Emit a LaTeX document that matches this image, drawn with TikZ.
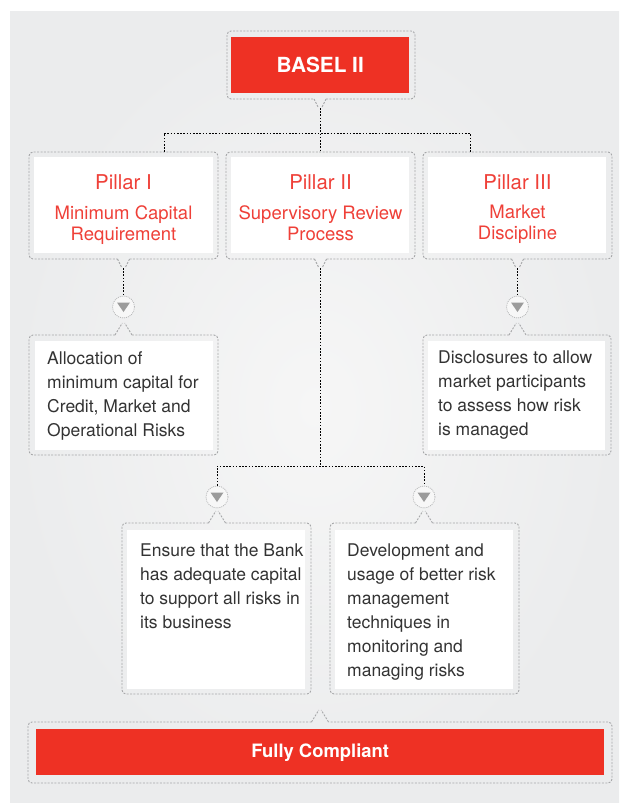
\documentclass[tikz,border=0pt]{standalone}
\usepackage{fontspec}
\setmainfont{TeX Gyre Heros}
\definecolor{bred}{HTML}{EE3124}
\definecolor{pred}{HTML}{EF4038}
\definecolor{framegray}{HTML}{A6A7A9}
\definecolor{bodytext}{HTML}{333333}
\definecolor{bginner}{HTML}{F6F6F6}
\definecolor{bgouter}{HTML}{EBECED}
\definecolor{markerfill}{HTML}{F7F7F7}
\definecolor{trigray}{HTML}{9B9B9B}

% dashed callout frame with a notch on the bottom edge
\newcommand\framedown[6]{% name, left, top, right, bottom, notch x
  \draw[frameline, rounded corners=4pt] ({#6+6},#5) -- (#4,#5) -- (#4,#3) -- (#2,#3) -- (#2,#5) -- ({#6-6},#5);
  \draw[frameline] ({#6-6},#5) -- ({#6-1.5},{#5+9}) ({#6+6},#5) -- ({#6+1.5},{#5+9});
  \coordinate (#1) at (#6,{#5+9});
}
% dashed callout frame with a notch on the top edge
\newcommand\frameup[6]{% name, left, top, right, bottom, notch x
  \draw[frameline, rounded corners=4pt] ({#6-8.5},#3) -- (#2,#3) -- (#2,#5) -- (#4,#5) -- (#4,#3) -- ({#6+8.5},#3);
  \draw[frameline] ({#6-8.5},#3) -- ({#6-1.2},{#3-12}) ({#6+8.5},#3) -- ({#6+1.2},{#3-12});
  \coordinate (#1) at (#6,{#3-12});
}

\begin{document}
\begin{tikzpicture}[x=1pt, y=-1pt,
  frameline/.style={draw=framegray, line width=0.9pt, dash pattern=on 2pt off 1.4pt},
  link/.style={draw=black, line width=0.9pt, dash pattern=on 1.6pt off 1.6pt},
  redbox/.style={fill=bred, inner sep=0, anchor=north west},
  whitebox/.style={fill=white, inner sep=0, anchor=north west},
  headtext/.style={text=white, font=\bfseries\fontsize{20.8}{24}\selectfont},
  pillartitle/.style={text=pred, inner sep=0, anchor=base, font=\fontsize{20.4}{24}\selectfont},
  pillarsub/.style={text=pred, inner sep=0, anchor=north, align=center, font=\fontsize{18.5}{21}\selectfont},
  bodynode/.style={text=bodytext, inner sep=0, anchor=north west, align=left, font=\fontsize{17.5}{24}\selectfont},
  marker/.style={circle, minimum size=22pt, inner sep=0, fill=markerfill, draw=framegray!80, line width=0.8pt, dash pattern=on 1pt off 1pt}
]
\useasboundingbox (0,0) rectangle (619,803);

% backdrop
\fill[bgouter] (10,11) rectangle (619,803);
\shade[inner color=bginner, outer color=bgouter] (10,11) rectangle (619,803);

% top box
\framedown{bn}{227}{31}{415}{99}{320}
\node[redbox, minimum width=178pt, minimum height=56pt] (basel) at (231,37) {};
\node[headtext] (baseltext) at (basel.center) {BASEL II};

% pillars
\framedown{p1n}{29}{152}{218}{259}{123.5}
\framedown{p2n}{226}{152}{415}{259}{320.5}
\framedown{p3n}{423}{152}{612}{259}{517.5}
\coordinate (p1t) at (164,152);
\coordinate (p2t) at (320,152);
\coordinate (p3t) at (470,152);
\node[whitebox, minimum width=179pt, minimum height=96pt] (p1) at (34,157) {};
\node[whitebox, minimum width=178pt, minimum height=96pt] (p2) at (231,157) {};
\node[whitebox, minimum width=178pt, minimum height=96pt] (p3) at (428,157) {};

\node[pillartitle] (p1title) at (123.5,189) {Pillar I};
\node[pillartitle] (p2title) at (320.5,189) {Pillar II};
\node[pillartitle] (p3title) at (517.5,189) {Pillar III};
\node[pillarsub] (p1sub) at (123.5,205) {Minimum Capital\\Requirement};
\node[pillarsub] (p2sub) at (320.5,205) {Supervisory Review\\Process};
\node[pillarsub] (p3sub) at (517.5,205) {Market\\Discipline};

% second level
\frameup{c1n}{29}{335}{218}{455}{123.5}
\frameup{c3n}{423}{335}{611}{455}{517.5}
\node[whitebox, minimum width=178pt, minimum height=109pt] (c1) at (35,341) {};
\node[whitebox, minimum width=177pt, minimum height=109pt] (c3) at (428,341) {};
\node[bodynode] (c1text) at (47,351) {Allocation of\\minimum capital for\\Credit, Market and\\Operational Risks};
\node[bodynode] (c3text) at (438,351) {Disclosures to allow\\market participants\\to assess how risk\\is managed};

% third level
\frameup{d1n}{122}{523}{311}{694}{217}
\frameup{d2n}{330}{523}{519}{694}{424}
\node[whitebox, minimum width=178pt, minimum height=159pt] (d1) at (127,530) {};
\node[whitebox, minimum width=178pt, minimum height=159pt] (d2) at (335,530) {};
\node[bodynode] (d1text) at (140,544) {Ensure that the Bank\\has adequate capital\\to support all risks in\\its business};
\node[bodynode] (d2text) at (347,544) {Development and\\usage of better risk\\management\\techniques in\\monitoring and\\managing risks};

% bottom bar
\frameup{fn}{28}{722}{612}{783}{320}
\node[redbox, minimum width=568pt, minimum height=46pt] (full) at (36,729) {};
\node[headtext, font=\bfseries\fontsize{18.4}{22}\selectfont] (fulltext) at (full.center) {Fully Compliant};

% markers
\node[marker] (m1) at (123.5,307) {};
\node[marker] (m3) at (517.5,307) {};
\node[marker] (m4) at (217,497) {};
\node[marker] (m5) at (424,497) {};
\foreach \m in {m1,m3,m4,m5}
  \fill[trigray] (\m.center) ++(-6.5,-4.5) -- ++(13,0) -- ++(-6.5,9.5) -- cycle;

% connectors
\draw[link] (bn) -- (p2t);
\draw[link] (p1t) -- ++(0,-19) -| (p3t);
\draw[link] (p1n) -- (m1.north);
\draw[link] (p3n) -- (m3.north);
\coordinate (hj) at (320.5,466);
\draw[link] (p2n) -- (hj);
\draw[link] (m4.north) -- (m4.north |- hj) -- (m5.north |- hj) -- (m5.north);
\end{tikzpicture}
\end{document}
